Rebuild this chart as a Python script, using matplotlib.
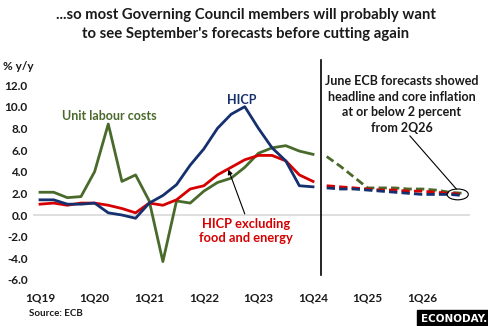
import matplotlib.pyplot as plt
from matplotlib.patches import Ellipse

plt.rcParams['font.family'] = ['Lato', 'DejaVu Sans']
plt.rcParams['font.weight'] = 'bold'

# quarterly history 1Q19..1Q24, projections 2Q24..4Q26
hicp = [1.4, 1.4, 1.0, 1.0, 1.1, 0.2, 0.0, -0.3, 1.1, 1.8, 2.8, 4.6, 6.1,
        8.0, 9.3, 10.0, 8.0, 6.2, 5.0, 2.7, 2.6]
core = [1.0, 1.1, 0.9, 1.1, 1.1, 0.9, 0.6, 0.2, 1.1, 0.9, 1.4, 2.4, 2.7,
        3.7, 4.4, 5.1, 5.5, 5.5, 5.0, 3.7, 3.1]
ulc = [2.1, 2.1, 1.6, 1.7, 4.0, 8.4, 3.1, 3.7, 1.3, -4.3, 1.3, 1.1, 2.2,
       3.0, 3.4, 4.4, 5.7, 6.2, 6.4, 5.9, 5.6]

hicp_f = [2.5, 2.4, 2.4, 2.3, 2.2, 2.1, 2.0, 1.9, 1.9, 1.9, 1.8]
core_f = [2.7, 2.6, 2.5, 2.4, 2.3, 2.3, 2.2, 2.2, 2.1, 2.0, 1.9]
ulc_f = [5.4, 4.5, 3.5, 2.5, 2.5, 2.5, 2.4, 2.4, 2.3, 2.1, 2.0]

tick_labels = ['1Q19', '1Q20', '1Q21', '1Q22', '1Q23', '1Q24', '1Q25', '1Q26']
y_ticks = [12, 10, 8, 6, 4, 2, 0, -2, -4, -6]

navy = '#15306e'
red = '#d60000'
green = '#4a6a2c'

fig = plt.figure(figsize=(4.89, 3.26), dpi=100)
ax = fig.add_axes([33.2 / 489, 46 / 326, 436.8 / 489, 195 / 326])

n_hist = len(hicp)
xh = list(range(n_hist))
xf = list(range(n_hist, n_hist + len(hicp_f)))

ax.axhline(0, color='#d9d9d9', lw=1.2, zorder=1)

ax.plot(xh, ulc, color=green, lw=2, zorder=3)
ax.plot(xh, core, color=red, lw=2, zorder=4)
ax.plot(xh, hicp, color=navy, lw=2, zorder=5)

dash = (0, (3, 1.5))
ax.plot(xf, ulc_f, color=green, lw=2, ls=dash, zorder=3)
ax.plot(xf, core_f, color=red, lw=2, ls=dash, zorder=4)
ax.plot(xf, hicp_f, color=navy, lw=2, ls=dash, zorder=5)

ax.set_xlim(-0.5, 31.5)
ax.set_ylim(-6, 12)
ax.set_xticks(range(0, 32, 4))
ax.set_xticklabels(tick_labels)
ax.set_yticks(y_ticks)
ax.set_yticklabels([f'{v:.1f}' for v in y_ticks])
ax.tick_params(length=0, labelsize=8.5, colors='#1a1a1a')
ax.tick_params(axis='x', pad=9)
ax.tick_params(axis='y', pad=4)
for s in ax.spines.values():
    s.set_visible(False)

# divider between history and projections
ax.plot([20.6, 20.6], [-5.5, 14.3], color='black', lw=1.2, clip_on=False)

ax.text(14.8, 10.6, 'HICP', color=navy, fontsize=9, ha='center', va='center')
ax.text(1.6, 9.1, 'Unit labour costs', color=green, fontsize=9, ha='left', va='center')
ax.text(15.1, -1.5, 'HICP excluding\nfood and energy', color=red, fontsize=9.3,
        ha='center', va='center', linespacing=1.2)
ax.annotate('', xy=(13.8, 4.2), xytext=(15.0, 0.1),
            arrowprops=dict(arrowstyle='-|>', color='black', lw=0.8,
                            mutation_scale=7, shrinkA=0, shrinkB=0))

ax.text(26.5, 10.2, 'June ECB forecasts showed\nheadline and core inflation\nat or below 2 percent\nfrom 2Q26',
        color='#1a1a1a', fontsize=9, ha='center', va='center', linespacing=1.35)
ax.plot([27.1, 30.5], [7.3, 2.4], color='black', lw=0.8)
ax.add_patch(Ellipse((30.6, 1.9), 1.55, 1.0, fill=False, ec='black', lw=0.8, zorder=6))

fig.text(246 / 489, 1 - 15 / 326, '...so most Governing Council members will probably want',
         ha='center', va='center', fontsize=10.7, color='#1a1a1a')
fig.text(246 / 489, 1 - 34 / 326, "to see September's forecasts before cutting again",
         ha='center', va='center', fontsize=10.7, color='#1a1a1a')
fig.text(3 / 489, 1 - 66 / 326, '% y/y', ha='left', va='center', fontsize=8.5, color='#1a1a1a')
fig.text(29 / 489, 1 - 314 / 326, 'Source: ECB', ha='left', va='center', fontsize=7, color='#1a1a1a')
fig.text(454 / 489, 1 - 318.5 / 326, 'ECONODAY.', ha='center', va='center', fontsize=7.5,
         color='white', family='DejaVu Sans',
         bbox=dict(boxstyle='square,pad=0.35', fc='black', ec='black'))

fig.savefig('out.png', dpi=100)
